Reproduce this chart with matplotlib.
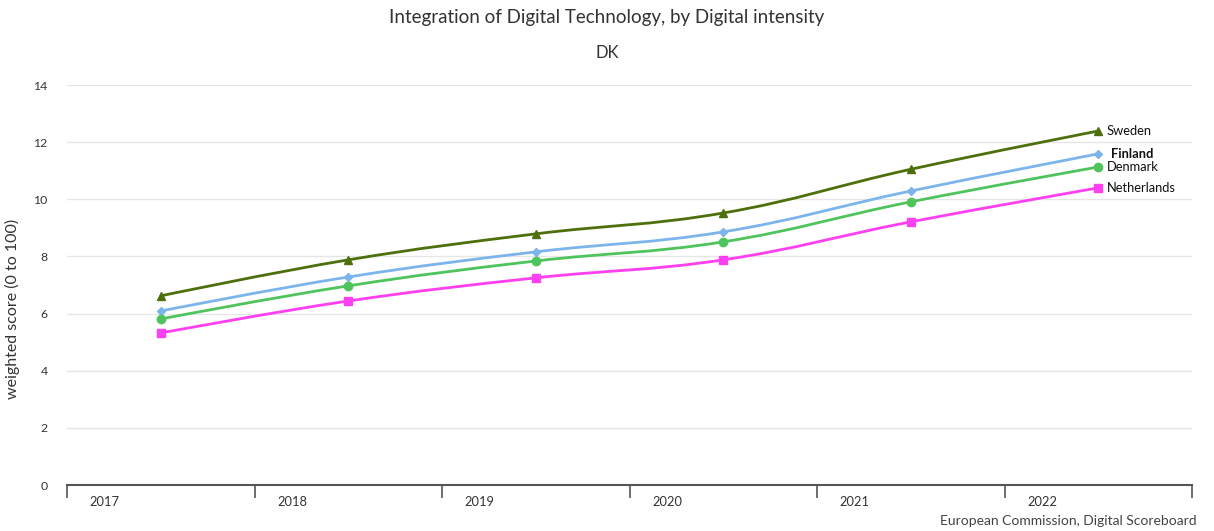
import numpy as np
import matplotlib.pyplot as plt
from matplotlib.path import Path
from matplotlib.patches import PathPatch

plt.rcParams['font.family'] = ['Lato', 'DejaVu Sans']

years = ['2017', '2018', '2019', '2020', '2021', '2022']
sweden = [6.62, 7.88, 8.79, 9.52, 11.05, 12.39]
finland = [6.09, 7.28, 8.16, 8.86, 10.29, 11.59]
denmark = [5.81, 6.97, 7.84, 8.51, 9.91, 11.13]
netherlands = [5.32, 6.44, 7.25, 7.88, 9.21, 10.40]

series = [
    ('Sweden', sweden, '#4e700c', '^', 6, 'normal'),
    ('Finland', finland, '#7cb5ec', 'D', 4, 'bold'),
    ('Denmark', denmark, '#4fc45c', 'o', 6, 'normal'),
    ('Netherlands', netherlands, '#ff40f0', 's', 6, 'normal'),
]


def spline_path(x, y, smoothing=1.5):
    # highcharts-like spline: bezier control points around each point
    denom = smoothing + 1
    n = len(x)
    verts = [(x[0], y[0])]
    codes = [Path.MOVETO]
    right_prev = (x[0], y[0])
    for i in range(1, n):
        if i < n - 1:
            lx = (smoothing * x[i] + x[i - 1]) / denom
            ly = (smoothing * y[i] + y[i - 1]) / denom
            rx = (smoothing * x[i] + x[i + 1]) / denom
            ry = (smoothing * y[i] + y[i + 1]) / denom
            corr = (ry - ly) * (rx - x[i]) / (rx - lx) + y[i] - ry
            ly += corr
            ry += corr
            left = (lx, ly)
            right = (rx, ry)
        else:
            left = (x[i], y[i])
            right = (x[i], y[i])
        verts += [right_prev, left, (x[i], y[i])]
        codes += [Path.CURVE4, Path.CURVE4, Path.CURVE4]
        right_prev = right
    return Path(verts, codes)


fig = plt.figure(figsize=(12.14, 5.31), dpi=100)
ax = fig.add_axes([67 / 1214, 46 / 531, 1125 / 1214, 400 / 531])

xs = np.arange(len(years))
for name, vals, col, mk, ms, fw in series:
    p = spline_path(xs, vals)
    ax.add_patch(PathPatch(p, facecolor='none', edgecolor=col, lw=2, zorder=3))
    ax.plot(xs, vals, linestyle='none', marker=mk, color=col, markersize=ms, zorder=4)
    ax.annotate(name, (xs[-1], vals[-1]), xytext=(6 if fw == 'normal' else 9, 0),
                textcoords='offset points', va='center', ha='left', fontsize=9.3,
                fontweight=fw, color='#111111')

ax.set_xlim(-0.5, 5.5)
ax.set_ylim(0, 14)
ax.set_yticks(np.arange(0, 15, 2))
ax.grid(axis='y', color='#e6e6e6', lw=1)
ax.set_axisbelow(True)
for s in ['top', 'right', 'left']:
    ax.spines[s].set_visible(False)
ax.spines['bottom'].set_color('#555555')
ax.spines['bottom'].set_linewidth(1.5)

ax.set_xticks(np.arange(-0.5, 6, 1))
ax.set_xticklabels([])
ax.tick_params(axis='x', length=9, width=1.2, color='#555555', direction='out')
for i, yr in enumerate(years):
    ax.text(i - 0.3, -0.6, yr, ha='center', va='center', fontsize=9.3, color='#333333')
ax.tick_params(axis='y', length=0, labelsize=8.8, labelcolor='#333333', pad=14)

ax.set_ylabel('weighted score (0 to 100)', fontsize=11.5, color='#333333', labelpad=8)
ax.yaxis.set_label_coords(-0.042, 0.44)

fig.text(0.5, 1 - 18 / 531, 'Integration of Digital Technology, by Digital intensity',
         ha='center', va='center', fontsize=13.5, color='#333333')
fig.text(0.5, 1 - 53 / 531, 'DK', ha='center', va='center', fontsize=12, color='#333333')
fig.text(1197 / 1214, 1 - 521 / 531, 'European Commission, Digital Scoreboard',
         ha='right', va='center', fontsize=10, color='#444444')

fig.savefig('out.png', dpi=100)
